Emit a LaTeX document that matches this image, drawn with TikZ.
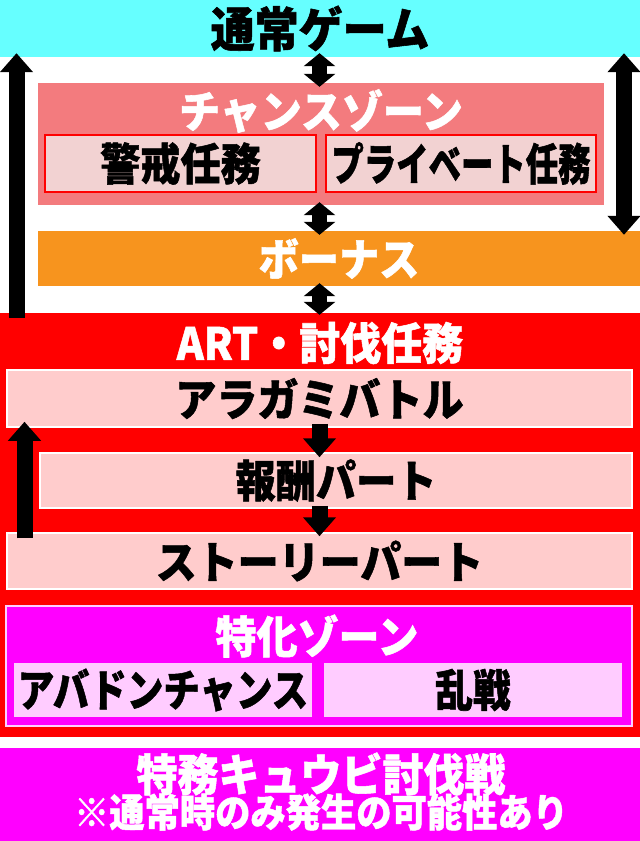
\documentclass[tikz,border=0pt]{standalone}
\usepackage{fontspec}
\setmainfont{Noto Sans CJK JP}[BoldFeatures={FakeBold=1.2}]
\usepackage{graphicx}
\usetikzlibrary{arrows.meta}
\definecolor{normalColor}{RGB}{102,255,255}
\definecolor{chanceColor}{RGB}{243,123,126}
\definecolor{missionColor}{RGB}{242,210,210}
\definecolor{bonusColor}{RGB}{247,148,30}
\definecolor{artColor}{RGB}{255,0,0}
\definecolor{partColor}{RGB}{255,204,204}
\definecolor{zoneColor}{RGB}{255,0,255}
\definecolor{zonePartColor}{RGB}{255,204,255}
\newcommand{\narrowText}[2]{\scalebox{#1}[1.08]{#2}}

\begin{document}
\begin{tikzpicture}[x=1pt,y=-1pt,
	box/.style={rectangle,inner sep=0pt,anchor=center},
	blackText/.style={font=\bfseries\fontsize{41}{41}\selectfont,text=black},
	whiteText/.style={font=\bfseries\fontsize{41}{41}\selectfont,text=white},
	partBox/.style={box,fill=partColor,draw=white,line width=1.5pt,blackText},
	bigArrow/.style={line width=16pt,-{Triangle[width=32pt,length=19pt]}},
	bigDouble/.style={line width=16pt,{Triangle[width=32pt,length=19pt]}-{Triangle[width=32pt,length=19pt]}},
	smallDouble/.style={line width=15pt,{Triangle[width=31pt,length=13pt]}-{Triangle[width=31pt,length=13pt]}}]
\useasboundingbox (0,0) rectangle (640,841);
\coordinate (midAxis) at (319.5,0);
\coordinate (leftAxis) at (16.5,0);
\coordinate (rightAxis) at (624,0);
\coordinate (loopAxis) at (24.5,0);
%
\node[box,fill=normalColor,minimum width=640pt,minimum height=57pt,blackText,font=\bfseries\fontsize{44}{44}\selectfont] (normal) at (320,28.5) {\narrowText{1}{通常ゲーム}};
\node[box,fill=chanceColor,minimum width=566pt,minimum height=122pt] (chance) at (321,144) {};
\node[whiteText] (chanceTitle) at (321,111) {\narrowText{1}{チャンスゾーン}};
\node[box,fill=missionColor,draw=artColor,line width=2.5pt,minimum width=271pt,minimum height=57pt,blackText] (keikai) at (180.5,163.5) {\narrowText{0.98}{警戒任務}};
\node[box,fill=missionColor,draw=artColor,line width=2.5pt,minimum width=270pt,minimum height=57pt,blackText] (private) at (461,163.5) {\narrowText{0.79}{プライベート任務}};
\node[box,fill=bonusColor,minimum width=602pt,minimum height=55pt,whiteText] (bonus) at (339,258.5) {\narrowText{0.98}{ボーナス}};
%
\node[box,fill=artColor,minimum width=640pt,minimum height=424pt] (art) at (320,525) {};
\node[whiteText] (artTitle) at (320,343) {\narrowText{1}{ART・討伐任務}};
\node[partBox,minimum width=625pt,minimum height=57pt] (aragami) at (319.5,398.5) {\narrowText{1}{アラガミバトル}};
\node[partBox,minimum width=592pt,minimum height=55pt] (reward) at (336,480.5) {\narrowText{0.98}{報酬パート}};
\node[partBox,minimum width=625pt,minimum height=56pt] (story) at (319.5,561) {\narrowText{1}{ストーリーパート}};
\node[box,fill=zoneColor,draw=zonePartColor,line width=1.5pt,minimum width=626pt,minimum height=120pt] (zone) at (319,666) {};
\node[whiteText] (zoneTitle) at (317,636) {\narrowText{1}{特化ゾーン}};
\node[box,fill=zonePartColor,minimum width=298pt,minimum height=54pt,blackText] (abaddon) at (163,690) {\narrowText{0.89}{アバドンチャンス}};
\node[box,fill=zonePartColor,minimum width=298pt,minimum height=54pt,blackText] (ransen) at (473,690) {\narrowText{0.92}{乱戦}};
%
\node[box,fill=zoneColor,minimum width=640pt,minimum height=93pt] (kyuubi) at (320,794.5) {};
\node[whiteText] (kyuubiTitle) at (321,774) {\narrowText{1}{特務キュウビ討伐戦}};
\node[whiteText,font=\bfseries\fontsize{36}{36}\selectfont] (kyuubiNote) at (321,812) {\narrowText{0.98}{※通常時のみ発生の可能性あり}};
%
\draw[smallDouble,shorten <=-4pt,shorten >=-4pt] (normal.south -| midAxis) -- (chance.north -| midAxis);
\draw[smallDouble,shorten <=-3pt,shorten >=-4pt] (chance.south -| midAxis) -- (bonus.north -| midAxis);
\draw[smallDouble,shorten <=-3pt,shorten >=-2pt] (bonus.south -| midAxis) -- (art.north -| midAxis);
\draw[bigDouble,shorten <=-4pt,shorten >=-4pt] (normal.south -| rightAxis) -- (bonus.north -| rightAxis);
\draw[bigArrow,shorten <=-5pt,shorten >=-4pt] (art.north -| leftAxis) -- (normal.south -| leftAxis);
\draw[bigArrow,shorten <=-4pt,shorten >=-5pt] (aragami.south -| midAxis) -- (reward.north -| midAxis);
\draw[bigArrow,shorten <=-3pt,shorten >=-4pt] (reward.south -| midAxis) -- (story.north -| midAxis);
\draw[bigArrow,shorten <=-6pt,shorten >=-6pt] (story.north -| loopAxis) -- (aragami.south -| loopAxis);
\end{tikzpicture}
\end{document}
